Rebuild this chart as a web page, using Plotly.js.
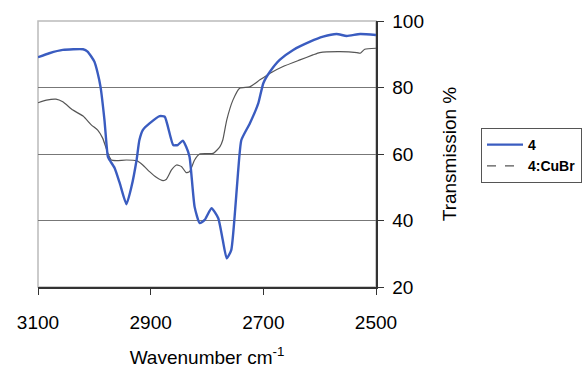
<!DOCTYPE html>
<html><head><meta charset="utf-8">
<script src="https://cdn.plot.ly/plotly-3.0.1.min.js"></script>
<style>html,body{margin:0;padding:0;background:#fff;}#chart{width:587px;height:368px;}</style>
</head><body><div id="chart"></div>
<script>
// Series "4"
const wn4 = [3100,3080,3056,3020,3012,3000,2994,2989,2982,2976,2973,2964,2955,2943,2934,2925,2920,2914,2902,2884,2875,2860,2852,2843,2837,2831,2822,2813,2804,2792,2780,2772,2765,2757,2751,2745,2739,2724,2709,2700,2688,2671,2647,2617,2594,2570,2552,2528,2500];
const t4  = [89.1,90.3,91.3,91.5,90.8,87.8,84.3,80.2,70.2,59.2,58.2,55.8,51.3,44.9,50.2,58.2,64.2,67.2,69.2,71.4,71.2,62.7,62.7,64.0,62.2,59.2,44.1,39.2,40.2,43.7,40.7,34.1,28.6,31.1,41.1,54.2,64.2,69.2,75.2,81.3,84.8,88.3,91.3,93.8,95.3,96.1,95.5,96.1,95.8];
// Series "4:CuBr"
const wnCu = [3100,3085,3068,3056,3038,3020,3005,2994,2985,2976,2970,2961,2943,2925,2914,2902,2890,2878,2872,2863,2854,2845,2837,2831,2822,2813,2789,2777,2772,2765,2754,2742,2724,2706,2688,2665,2635,2612,2600,2564,2534,2528,2520,2500];
const tCu  = [75.4,76.2,76.5,75.7,73.2,71.4,68.7,67.2,64.7,60.2,58.2,58.0,58.2,58.0,56.7,54.7,53.0,52.0,52.4,55.2,56.7,56.2,54.4,54.7,58.2,60.0,60.2,62.2,64.2,70.2,76.2,79.8,80.2,82.3,84.3,86.3,88.3,89.8,90.5,90.8,90.5,90.3,91.5,91.8];
const xTicks = [3100,2900,2700,2500];
const yTicks = [20,40,60,80,100];
const names = ["4","4:CuBr"];

const FONT = "Liberation Sans, Arial, sans-serif";
const traces = [
  {x: wnCu, y: tCu, type:'scatter', mode:'lines', name:names[1], showlegend:false,
   line:{color:'#555555', width:1.2, shape:'spline', smoothing:0.5}},
  {x: wn4, y: t4, type:'scatter', mode:'lines', name:names[0], legendrank:1, legendgroup:'a',
   line:{color:'#3a5cc0', width:2.4, shape:'spline', smoothing:0.5}},
  {x:[null], y:[null], type:'scatter', mode:'lines', name:names[1], legendrank:2, legendgroup:'b',
   line:{color:'#555555', width:1.2, dash:'dash'}}
];
const layout = {
  width:587, height:368,
  margin:{l:38, r:211, t:21, b:81},
  paper_bgcolor:'#fff', plot_bgcolor:'#fff',
  font:{family:FONT, color:'#000'},
  showlegend:true,
  legend:{xref:'container', yref:'container', x:481/587, y:1-128/368, xanchor:'left', yanchor:'top', bgcolor:'#fff',
    bordercolor:'#555', borderwidth:1, font:{size:14, family:FONT, weight:'bold'},
    tracegroupgap:0, itemwidth:36},
  xaxis:{range:[3100,2500], tickvals:xTicks, ticks:'outside', ticklen:6, tickcolor:'#333',
    showline:true, linecolor:'#333', linewidth:1.5, showgrid:false, zeroline:false,
    tickfont:{size:19}, ticklabelstandoff:12,
    title:{text:'Wavenumber cm<sup>-1</sup>', font:{size:19}, standoff:20}},
  yaxis:{range:[20,100], side:'right', tickvals:yTicks, ticks:'outside', ticklen:6, tickcolor:'#333',
    showline:true, linecolor:'#333', linewidth:1.5, showgrid:true, gridcolor:'#777', gridwidth:1,
    zeroline:false, tickfont:{size:19}, ticklabelstandoff:5,
    title:{text:'Transmission %', font:{size:19}, standoff:19}},
  shapes:[{type:'rect', xref:'paper', yref:'paper', x0:0, x1:1, y0:0, y1:1,
    line:{color:'#bbbbbb', width:1.5}, layer:'below'}]
};
Plotly.newPlot('chart', traces, layout, {staticPlot:true, displayModeBar:false});
</script></body></html>
